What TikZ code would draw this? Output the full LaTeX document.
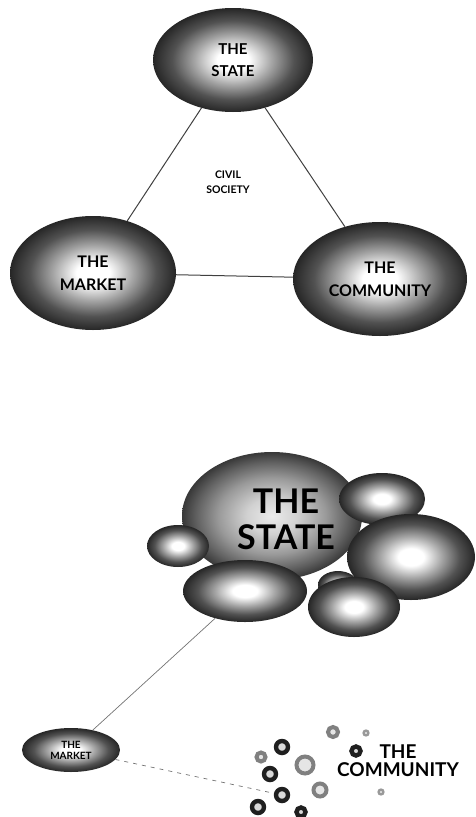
\documentclass[tikz,border=0pt]{standalone}
\usepackage{fontspec}
\setmainfont{Lato}
\usepackage{tikz}
\usetikzlibrary{shapes.geometric}

\pgfdeclareradialshading{orb}{\pgfpoint{0bp}{0bp}}{color(0bp)=(white); color(5bp)=(white); color(12bp)=(black!35); color(19bp)=(black!68); color(25bp)=(black!85); color(50bp)=(black!85)}
\pgfdeclareradialshading{orbpale}{\pgfpoint{0bp}{0bp}}{color(0bp)=(white!92!black); color(7bp)=(black!18); color(15bp)=(black!40); color(21bp)=(black!62); color(25bp)=(black!78); color(50bp)=(black!78)}

\tikzset{
  orbnode/.style={ellipse, shade, shading=orb, inner sep=0pt, align=center},
  palenode/.style={ellipse, shade, shading=orbpale, inner sep=0pt, align=center},
  tie/.style={line width=1pt, color=black!75},
  thinlink/.style={line width=0.7pt, color=black!55},
  darkring/.style={circle, draw=black!88, line width=4.4pt, fill=white!85!black, inner sep=0pt},
  grayring/.style={circle, draw=black!50, line width=4pt, fill=white!90!black, inner sep=0pt},
  paleringnode/.style={circle, draw=black!40, line width=2.2pt, fill=white!85!black, inner sep=0pt}
}

\begin{document}
\begin{tikzpicture}[x=1pt, y=-1pt]
        \useasboundingbox (0,0) rectangle (475,817);

        % triangle of the three spheres
        \node[orbnode, minimum width=160pt, minimum height=104pt, font=\fontsize{15}{22}\selectfont\bfseries] (state) at (233,60) {THE\\STATE};
        \node[orbnode, minimum width=166pt, minimum height=114pt, font=\fontsize{16}{23}\selectfont\bfseries] (market) at (93,273) {THE\\MARKET};
        \node[orbnode, minimum width=174pt, minimum height=114pt, font=\fontsize{16}{23}\selectfont\bfseries] (community) at (380,279) {THE\\COMMUNITY};
        \node[align=center, font=\fontsize{10.5}{15}\selectfont\bfseries] (civil) at (228,182) {CIVIL\\SOCIETY};

        \draw[tie] (state) -- (market);
        \draw[tie] (state) -- (community);
        \draw[tie] (market) -- (community);

        % the swollen state
        \node[palenode, minimum width=180pt, minimum height=128pt] (bigstate) at (272,516) {};
        \node[align=center, font=\fontsize{34}{36}\selectfont\bfseries] (bigstatetext) at (286,519) {THE\\STATE};
        \node[orbnode, minimum width=86pt, minimum height=52pt] (blobne) at (382,499) {};
        \node[orbnode, minimum width=128pt, minimum height=86pt] (blobe) at (411,557) {};
        \node[orbnode, minimum width=62pt, minimum height=42pt] (blobw) at (178,546) {};
        \node[orbnode, minimum width=40pt, minimum height=28pt] (blobmid) at (338,585) {};
        \node[orbnode, minimum width=124pt, minimum height=62pt] (blobsw) at (245,591) {};
        \node[orbnode, minimum width=92pt, minimum height=60pt] (blobs) at (354,607) {};

        \node[orbnode, minimum width=98pt, minimum height=44pt, font=\fontsize{10}{11}\selectfont\bfseries] (smallmarket) at (71,750) {THE\\MARKET};

        % scattered community
        \foreach \name/\x/\y/\d/\sty in {c1/333/732/10/grayring, c2/366/733/5/paleringnode, c3/282/747/12/darkring,
            c4/356/751/9/darkring, c5/261/757/9/grayring, c6/305/765/17/grayring, c7/270/774/12/darkring,
            c8/320/790/13/grayring, c9/381/792/5/paleringnode, c10/282/795/12/darkring,
            c11/258/807/12/darkring, c12/301/812/9/darkring}
            \node[\sty, minimum size=\d pt] (\name) at (\x,\y) {};
        \node[align=center, font=\fontsize{19}{18}\selectfont\bfseries] (smallcommunity) at (398,761) {THE\\COMMUNITY};

        \draw[thinlink] (blobsw) -- (smallmarket);
        \draw[thinlink, dashed, dash pattern=on 4pt off 5pt] (smallmarket) -- (c10);
    \end{tikzpicture}
\end{document}
